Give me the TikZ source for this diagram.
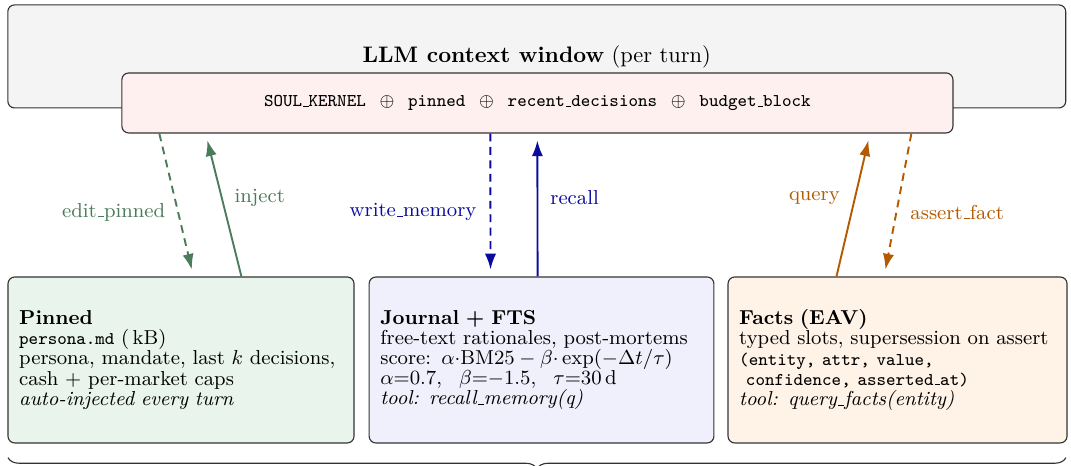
\documentclass[tikz,border=0pt]{standalone}
\usepackage{amsmath,amssymb}
\usepackage{xcolor}
\usepackage{tikz}
\usetikzlibrary{calc,arrows.meta,decorations.pathreplacing}
\definecolor{ctxfill}{HTML}{F4F4F4}
\definecolor{kernfill}{HTML}{FFF0F0}
\definecolor{pinfill}{HTML}{E9F4EC}
\definecolor{jrnfill}{HTML}{F0F0FC}
\definecolor{factfill}{HTML}{FFF3E8}
\definecolor{edge}{HTML}{333333}
\definecolor{pingreen}{HTML}{4A7B5A}
\definecolor{jrnblue}{HTML}{0A0A9E}
\definecolor{factorange}{HTML}{B35A00}
\renewcommand{\_}{\leavevmode\kern.06em\vbox{\hrule width.3em}}
\newcommand{\boxfont}{\fontsize{9}{9}\selectfont\lineskiplimit=-5pt}
\newcommand{\code}[1]{{\footnotesize\texttt{#1}}}
\tikzset{
  box/.style={draw=edge, line width=0.5pt, rounded corners=3pt},
  store/.style={box, align=left, inner xsep=5pt, minimum height=2.6cm, font=\boxfont},
  flow/.style={line width=0.85pt, -{Latex[length=7pt,width=5pt]}, shorten >=0.11cm},
  write/.style={flow, dash pattern=on 3.5pt off 2.5pt},
  read/.style={flow},
  lbl/.style={font=\small, pos=0.55}
}

\begin{document}
\begin{tikzpicture}
\useasboundingbox (0,0) rectangle (16.78,7.30);

% context window, kernel on its lower edge
\node[box, fill=ctxfill, minimum width=16.575cm, minimum height=1.614cm] (ctx) at (8.41,6.416)
  {\textbf{LLM context window} (per turn)};
\node[box, fill=kernfill, minimum width=13.02cm, minimum height=0.94cm, font=\footnotesize\ttfamily] (kernel) at (8.42,5.687)
  {SOUL\_KERNEL $\:\oplus\:$ pinned $\:\oplus\:$ recent\_decisions $\:\oplus\:$ budget\_block};

% pinned store
\node[store, fill=pinfill, text width=5.07cm] (pinned) at (2.836,1.66)
  {\textbf{Pinned}\\
   \code{persona.md} (\,kB)\\
   persona, mandate, last $k$ decisions,\\
   cash + per-market caps\\
   \textit{auto-injected every turn}};

% journal store
\node[store, fill=jrnfill, text width=5.05cm] (journal) at (8.484,1.66)
  {\textbf{Journal + FTS}\\
   free-text rationales, post-mortems\\
   score: $\alpha{\cdot}\mathrm{BM25} - \beta{\cdot}\exp(-\Delta t/\tau)$\\
   $\alpha{=}0.7,\enspace\,\beta{=}{-}1.5,\enspace\,\tau{=}30\,\mathrm{d}$\\
   \textit{tool: recall\_memory(q)}};

% facts store
\node[store, fill=factfill, text width=4.96cm] (facts) at (14.062,1.66)
  {\textbf{Facts (EAV)}\\
   typed slots, supersession on assert\\
   \code{(entity, attr, value,}\\
   \code{\ confidence, asserted\_at)}\\
   \textit{tool: query\_facts(entity)}};

% arrows between kernel and stores
\draw[write, pingreen] ([xshift=0.595cm]kernel.south west) --
  node[lbl, left=2pt] (editlbl) {edit\_pinned} ([xshift=2.914cm]pinned.north west);
\draw[read, pingreen] ([xshift=3.666cm]pinned.north west) --
  node[lbl, right=2pt] (injectlbl) {inject} ([xshift=1.321cm]kernel.south west);

\draw[write, jrnblue] ([xshift=5.781cm]kernel.south west) --
  node[lbl, left=2.5pt] (writelbl) {write\_memory} ([xshift=1.911cm]journal.north west);
\draw[read, jrnblue] ([xshift=2.648cm]journal.north west) --
  node[lbl, right=2pt] (recalllbl) {recall} ([xshift=6.518cm]kernel.south west);

\draw[read, factorange] ([xshift=1.708cm]facts.north west) --
  node[lbl, left=3pt] (querylbl) {query} ([xshift=11.73cm]kernel.south west);
\draw[write, factorange] ([xshift=12.378cm]kernel.south west) --
  node[lbl, right=2.5pt] (assertlbl) {assert\_fact} ([xshift=2.455cm]facts.north west);

% brace under the stores
\draw[edge, line width=0.5pt, decorate, decoration={brace, amplitude=5pt}] (16.70,0.13) -- (0.125,0.13);
\end{tikzpicture}
\end{document}
